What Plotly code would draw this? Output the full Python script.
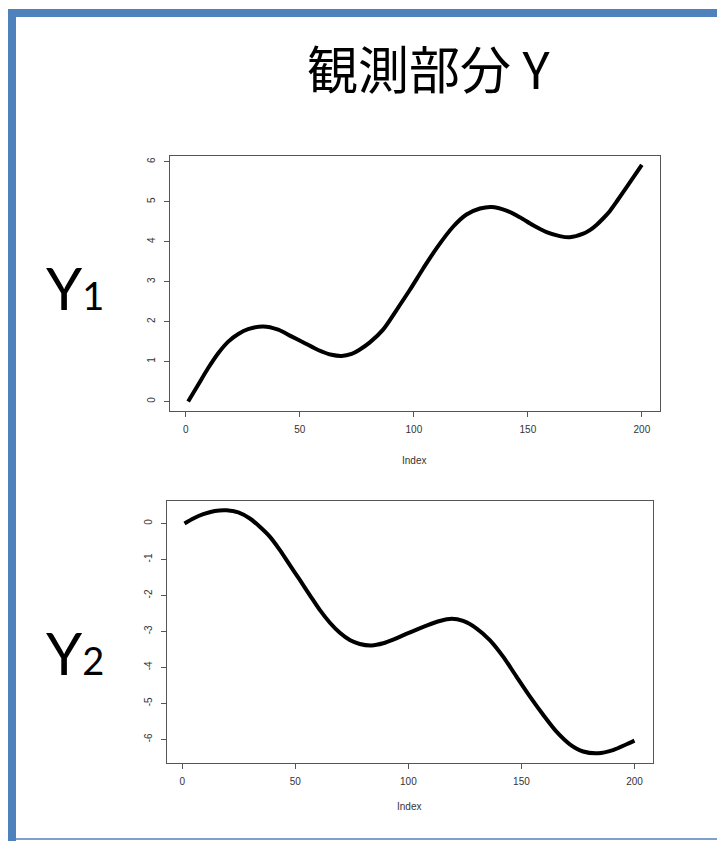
import plotly.graph_objects as go

# ---- data ----
index1 = [1, 5.4, 9.8, 14.2, 18.6, 23, 27.3, 33.9, 40.5, 46.3, 52.2, 58, 63.9, 68.3,
          72.7, 76, 80.7, 86.5, 92.4, 98.2, 104.1, 110, 117.3, 123.1, 129, 134,
          140.6, 146.5, 152.3, 158.2, 164, 168.4, 174.3, 177.2, 180.1, 183, 186, 188.9,
          194, 200]
y1 = [0.00, 0.42, 0.84, 1.21, 1.50, 1.69, 1.81, 1.88, 1.80, 1.63, 1.46, 1.29, 1.17, 1.14,
      1.19, 1.29, 1.48, 1.80, 2.29, 2.79, 3.33, 3.84, 4.38, 4.68, 4.83, 4.87,
      4.78, 4.61, 4.41, 4.24, 4.14, 4.11, 4.20, 4.29, 4.42, 4.58, 4.77, 5.00,
      5.42, 5.92]

index2 = [1, 4.9, 9.3, 14.4, 19.6, 24.8, 29.9, 34.3, 38.8, 43.2, 47.6, 52, 56.4, 60.9,
          65.3, 69.7, 74.1, 78.5, 83.7, 88.9, 93.3, 98.4, 102.1, 108, 113.9, 119.1,
          124.2, 130.2, 136, 141.9, 147.8, 153.7, 159.6, 165.5, 171.4, 177.3, 183.9,
          190.5, 196.5, 200]
y2 = [0.00, 0.14, 0.26, 0.35, 0.37, 0.31, 0.14, -0.09, -0.37, -0.74, -1.16, -1.57, -1.99, -2.41,
      -2.76, -3.04, -3.24, -3.35, -3.39, -3.33, -3.23, -3.09, -2.99, -2.84, -2.71, -2.65,
      -2.71, -2.92, -3.24, -3.70, -4.26, -4.81, -5.32, -5.79, -6.14, -6.34, -6.39,
      -6.30, -6.14, -6.04]

x_ticks = [0, 50, 100, 150, 200]
y1_ticks = [0, 1, 2, 3, 4, 5, 6]
y2_ticks = [-6, -5, -4, -3, -2, -1, 0]

title_text = "観測部分 Y"
label1 = "Y<span style='font-size:38px'>1</span>"
label2 = "Y<span style='font-size:38px'>2</span>"
xlab = "Index"

W, H = 717, 842


def r_range(vals):
    mn, mx = min(vals), max(vals)
    ext = (mx - mn) * 0.04
    return [mn - ext, mx + ext]


def px(x):
    return x / W


def py(y):
    return 1 - y / H


fig = go.Figure()
fig.add_trace(go.Scatter(x=index1, y=y1, mode="lines", xaxis="x", yaxis="y",
                         line=dict(color="black", width=4, shape="spline", smoothing=0.8),
                         showlegend=False, hoverinfo="skip"))
fig.add_trace(go.Scatter(x=index2, y=y2, mode="lines", xaxis="x2", yaxis="y2",
                         line=dict(color="black", width=4, shape="spline", smoothing=0.8),
                         showlegend=False, hoverinfo="skip"))

axis_common = dict(showline=True, mirror=True, linecolor="#555", linewidth=1,
                   ticks="outside", ticklen=5, tickcolor="#555", tickwidth=1,
                   showgrid=False, zeroline=False, fixedrange=True,
                   tickfont=dict(family="Liberation Sans", size=10, color="#333"))

fig.update_layout(
    width=W, height=H,
    margin=dict(l=0, r=0, t=0, b=0),
    paper_bgcolor="white", plot_bgcolor="white",
    xaxis=dict(domain=[px(170), px(660)], range=r_range(index1), tickvals=x_ticks,
               ticktext=[str(v) for v in x_ticks],
               anchor="y", ticklabelstandoff=4, **axis_common),
    yaxis=dict(domain=[py(411), py(155.5)], range=r_range(y1), tickvals=y1_ticks,
               ticktext=[str(v) for v in y1_ticks],
               anchor="x", tickangle=-90, ticklabelstandoff=5, **axis_common),
    xaxis2=dict(domain=[px(166.5), px(652.5)], range=r_range(index2), tickvals=x_ticks,
                ticktext=[str(v) for v in x_ticks],
                anchor="y2", ticklabelstandoff=4, **axis_common),
    yaxis2=dict(domain=[py(763), py(500.5)], range=r_range(y2), tickvals=y2_ticks,
                ticktext=[str(v) for v in y2_ticks],
                anchor="x2", tickangle=-90, ticklabelstandoff=5, **axis_common),
)

anns = [
    dict(text=title_text, x=px(429), y=py(67), xanchor="center", yanchor="middle",
         font=dict(family="Noto Sans CJK JP", size=51, color="black")),
    dict(text=label1, x=px(44), y=py(287), xanchor="left", yanchor="middle",
         font=dict(family="Lato", size=58, color="black")),
    dict(text=label2, x=px(44), y=py(652), xanchor="left", yanchor="middle",
         font=dict(family="Lato", size=58, color="black")),
    dict(text=xlab, x=px(414), y=py(460), xanchor="center", yanchor="middle",
         font=dict(family="Liberation Sans", size=10, color="#333")),
    dict(text=xlab, x=px(409), y=py(806), xanchor="center", yanchor="middle",
         font=dict(family="Liberation Sans", size=10, color="#333")),
]
for a in anns:
    a.update(xref="paper", yref="paper", showarrow=False)
fig.update_layout(annotations=anns)

blue = "#4F81BD"
shapes = [
    dict(type="rect", x0=px(8), x1=px(16), y0=py(841), y1=py(9), fillcolor=blue, line_width=0),
    dict(type="rect", x0=px(8), x1=1, y0=py(17), y1=py(9), fillcolor=blue, line_width=0),
    dict(type="rect", x0=px(16), x1=1, y0=py(840), y1=py(838), fillcolor="#7DA0CF", line_width=0),
]
for s in shapes:
    s.update(xref="paper", yref="paper", layer="above")
fig.update_layout(shapes=shapes)

fig.write_html("out.html", config={"displayModeBar": False},
               post_script="document.body.style.margin='0';document.body.style.overflow='hidden';")
